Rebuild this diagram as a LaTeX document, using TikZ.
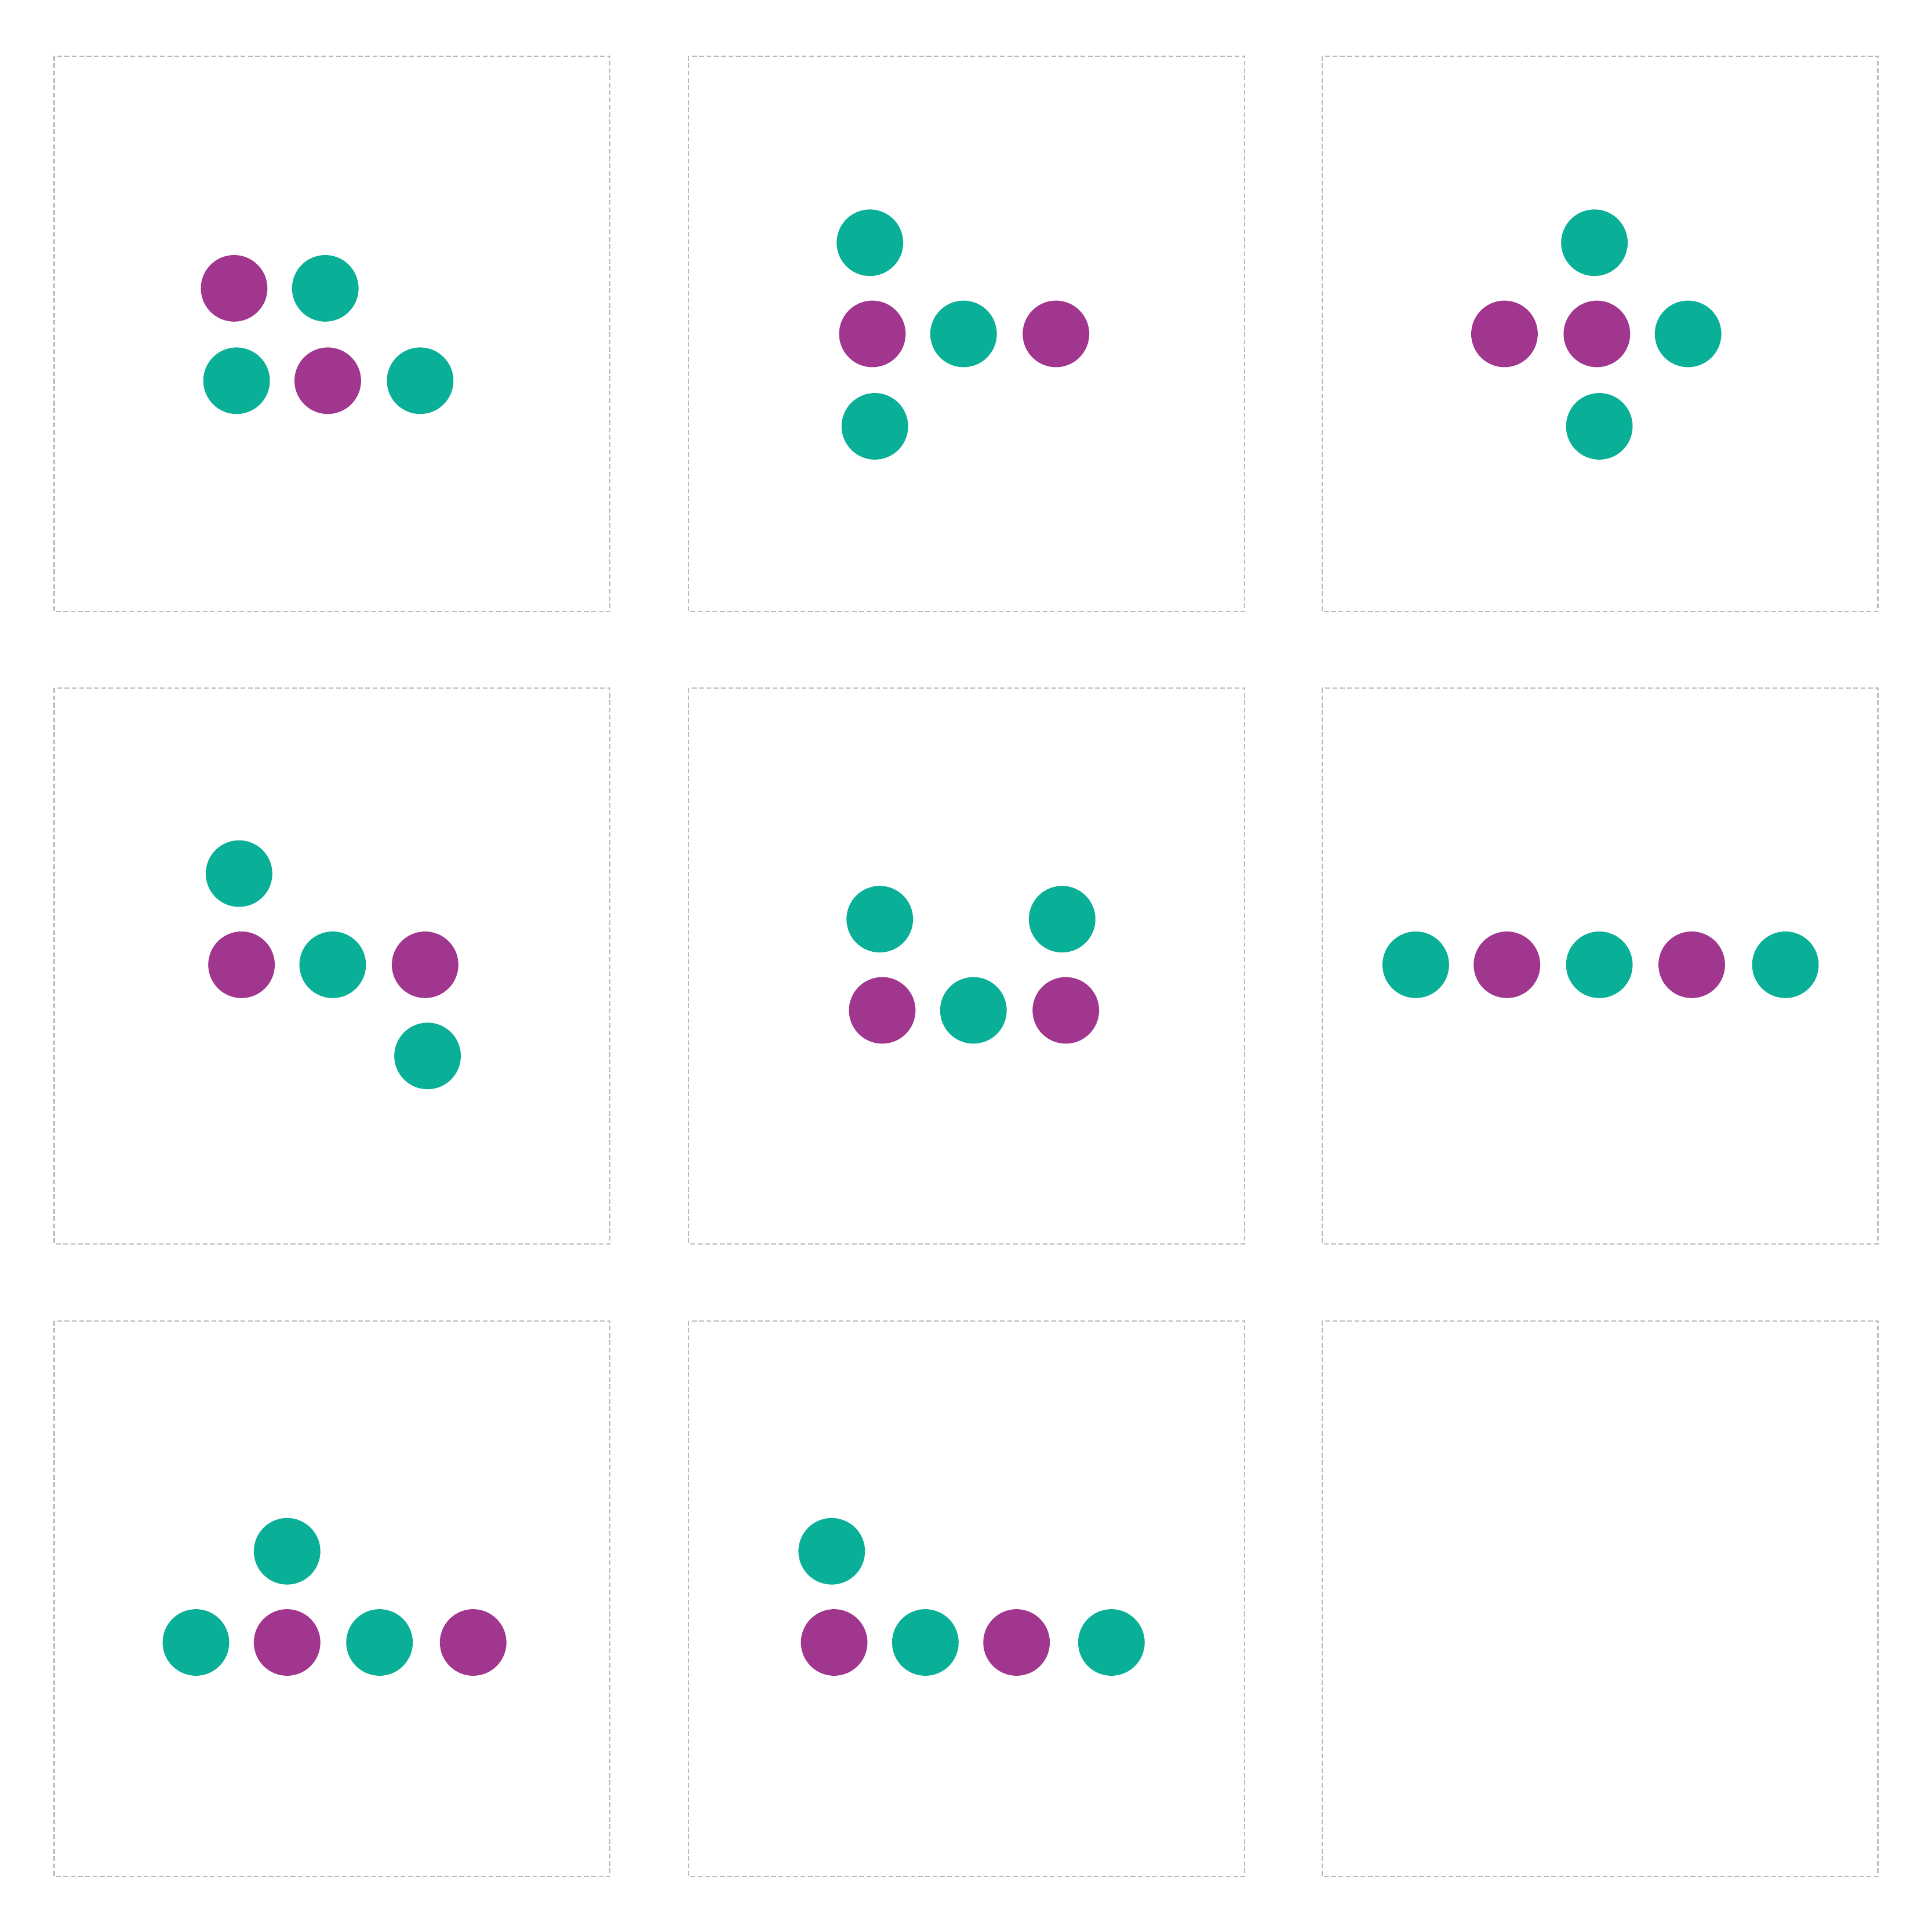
\documentclass[tikz,border=0pt]{standalone}
\definecolor{plum}{RGB}{160,54,142}
\definecolor{jade}{RGB}{9,175,150}
\definecolor{frame}{RGB}{185,185,185}
\tikzset{
  panel/.style={draw=frame, line width=0.6pt, dash pattern=on 2.3pt off 1.3pt},
  dot/.style={circle, inner sep=0pt, minimum size=1.148cm},
  pdot/.style={dot, fill=plum},
  tdot/.style={dot, fill=jade},
}
\begin{document}
\begin{tikzpicture}[x=0.021256cm, y=-0.021256cm]
\useasboundingbox (0,0) rectangle (1568,1568);

% frames
\draw[panel] (44,45.5) rectangle +(451,451);
\draw[panel] (559,45.5) rectangle +(451,451);
\draw[panel] (1073,45.5) rectangle +(451,451);
\draw[panel] (44,558.5) rectangle +(451,451);
\draw[panel] (559,558.5) rectangle +(451,451);
\draw[panel] (1073,558.5) rectangle +(451,451);
\draw[panel] (44,1072) rectangle +(451,451);
\draw[panel] (559,1072) rectangle +(451,451);
\draw[panel] (1073,1072) rectangle +(451,451);

% panel a
\node[pdot] (a1) at (190,234) {};
\node[tdot] (a2) at (264,234) {};
\node[tdot] (a3) at (192,309) {};
\node[pdot] (a4) at (266,309) {};
\node[tdot] (a5) at (341,309) {};

% panel b
\node[tdot] (b1) at (706,197) {};
\node[pdot] (b2) at (708,271) {};
\node[tdot] (b3) at (782,271) {};
\node[pdot] (b4) at (857,271) {};
\node[tdot] (b5) at (710,346) {};

% panel c
\node[tdot] (c1) at (1294,197) {};
\node[pdot] (c2) at (1221,271) {};
\node[pdot] (c3) at (1296,271) {};
\node[tdot] (c4) at (1370,271) {};
\node[tdot] (c5) at (1298,346) {};

% panel d
\node[tdot] (d1) at (194,709) {};
\node[pdot] (d2) at (196,783) {};
\node[tdot] (d3) at (270,783) {};
\node[pdot] (d4) at (345,783) {};
\node[tdot] (d5) at (347,857) {};

% panel e
\node[tdot] (e1) at (714,746) {};
\node[tdot] (e2) at (862,746) {};
\node[pdot] (e3) at (716,820) {};
\node[tdot] (e4) at (790,820) {};
\node[pdot] (e5) at (865,820) {};

% panel f
\node[tdot] (f1) at (1149,783) {};
\node[pdot] (f2) at (1223,783) {};
\node[tdot] (f3) at (1298,783) {};
\node[pdot] (f4) at (1373,783) {};
\node[tdot] (f5) at (1449,783) {};

% panel g
\node[tdot] (g1) at (233,1259) {};
\node[tdot] (g2) at (159,1333) {};
\node[pdot] (g3) at (233,1333) {};
\node[tdot] (g4) at (308,1333) {};
\node[pdot] (g5) at (384,1333) {};

% panel h
\node[tdot] (h1) at (675,1259) {};
\node[pdot] (h2) at (677,1333) {};
\node[tdot] (h3) at (751,1333) {};
\node[pdot] (h4) at (825,1333) {};
\node[tdot] (h5) at (902,1333) {};
\end{tikzpicture}
\end{document}
